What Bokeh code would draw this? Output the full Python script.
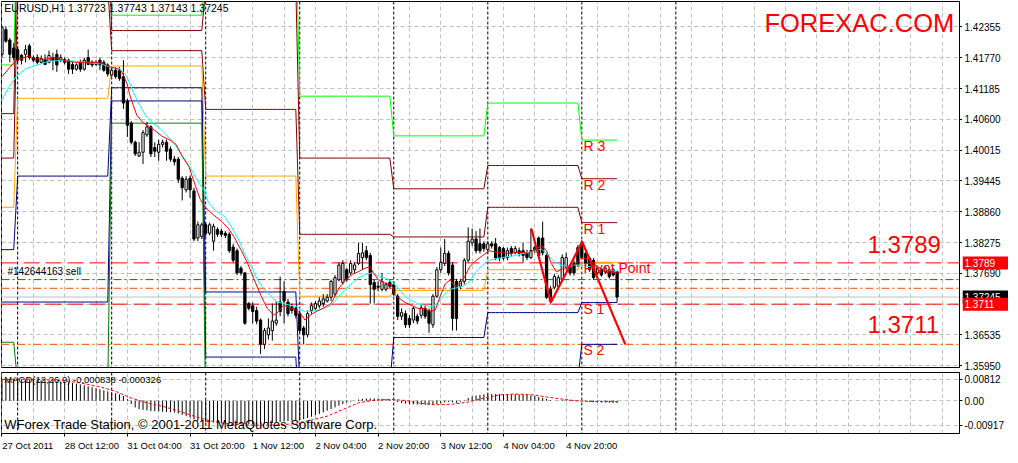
import numpy as np
from bokeh.plotting import figure
from bokeh.layouts import column, row
from bokeh.models import (Range1d, FixedTicker, Span, Label, CustomJSTickFormatter,
                          ColumnDataSource)
from bokeh.core.properties import value
from bokeh.embed import file_html
from bokeh.resources import INLINE

FONT = "Liberation Sans"

# ---------------- EURUSD H1 candles (bar 0 = 27 Oct 2011 20:00) ----------------
bar_open = [
    1.4183, 1.4230, 1.4210, 1.4195, 1.4192, 1.4181, 1.4183, 1.4199, 1.4177, 1.4177,
    1.4168, 1.4173, 1.4168, 1.4177, 1.4183, 1.4172, 1.4173, 1.4172, 1.4164, 1.4155,
    1.4168, 1.4155, 1.4177, 1.4168, 1.4164, 1.4172, 1.4168, 1.4163, 1.4144, 1.4153,
    1.4152, 1.4141, 1.4095, 1.4053, 1.4017, 1.3991, 1.3998, 1.4031, 1.4046, 1.4007,
    1.3998, 1.4013, 1.4017, 1.4004, 1.3985, 1.3985, 1.3949, 1.3927, 1.3949, 1.3925,
    1.3836, 1.3839, 1.3861, 1.3845, 1.3830, 1.3852, 1.3849, 1.3845, 1.3843, 1.3819,
    1.3812, 1.3779, 1.3770, 1.3712, 1.3708, 1.3699, 1.3681, 1.3635, 1.3653, 1.3661,
    1.3675, 1.3715, 1.3735, 1.3715, 1.3706, 1.3703, 1.3693, 1.3666, 1.3653, 1.3699,
    1.3703, 1.3708, 1.3712, 1.3717, 1.3724, 1.3730, 1.3757, 1.3752, 1.3776, 1.3770,
    1.3776, 1.3788, 1.3799, 1.3812, 1.3803, 1.3752, 1.3745, 1.3739, 1.3739, 1.3752,
    1.3748, 1.3726, 1.3688, 1.3693, 1.3684, 1.3681, 1.3688, 1.3690, 1.3703, 1.3699,
    1.3672, 1.3726, 1.3776, 1.3788, 1.3807, 1.3785, 1.3754, 1.3745, 1.3754, 1.3794,
    1.3827, 1.3834, 1.3825, 1.3825, 1.3814, 1.3825, 1.3825, 1.3818, 1.3816, 1.3799,
    1.3816, 1.3808, 1.3812, 1.3812, 1.3808, 1.3799, 1.3818, 1.3836, 1.3836, 1.3803,
    1.3739, 1.3743, 1.3745, 1.3757, 1.3781, 1.3781, 1.3788, 1.3818, 1.3827, 1.3807,
    1.3798, 1.3794, 1.3770, 1.3776, 1.3772, 1.3776, 1.3776, 1.37723]
bar_high = [
    1.4237, 1.4236, 1.4214, 1.4204, 1.4199, 1.4184, 1.4201, 1.4203, 1.4181, 1.4183,
    1.4181, 1.4183, 1.4190, 1.4186, 1.4192, 1.4183, 1.4177, 1.4175, 1.4170, 1.4166,
    1.4173, 1.4177, 1.4192, 1.4172, 1.4172, 1.4177, 1.4172, 1.4166, 1.4159, 1.4159,
    1.4159, 1.4172, 1.4099, 1.4057, 1.4020, 1.4017, 1.4040, 1.4055, 1.4049, 1.4017,
    1.4022, 1.4022, 1.4022, 1.4009, 1.3991, 1.3989, 1.3953, 1.3953, 1.3954, 1.3931,
    1.3867, 1.3865, 1.3865, 1.3865, 1.3863, 1.3856, 1.3854, 1.3849, 1.3847, 1.3825,
    1.3816, 1.3783, 1.3772, 1.3715, 1.3714, 1.3706, 1.3684, 1.3666, 1.3684, 1.3712,
    1.3717, 1.3763, 1.3754, 1.3721, 1.3712, 1.3706, 1.3699, 1.3670, 1.3699, 1.3714,
    1.3717, 1.3724, 1.3730, 1.3730, 1.3757, 1.3766, 1.3790, 1.3794, 1.3779, 1.3794,
    1.3790, 1.3827, 1.3827, 1.3821, 1.3808, 1.3757, 1.3754, 1.3770, 1.3752, 1.3757,
    1.3754, 1.3730, 1.3703, 1.3699, 1.3690, 1.3706, 1.3693, 1.3710, 1.3708, 1.3703,
    1.3730, 1.3781, 1.3818, 1.3834, 1.3812, 1.3790, 1.3759, 1.3759, 1.3798, 1.3856,
    1.3854, 1.3849, 1.3854, 1.3830, 1.3830, 1.3830, 1.3836, 1.3821, 1.3819, 1.3818,
    1.3821, 1.3821, 1.3818, 1.3827, 1.3814, 1.3854, 1.3821, 1.3839, 1.3867, 1.3808,
    1.3745, 1.3768, 1.3766, 1.3805, 1.3808, 1.3787, 1.3794, 1.3823, 1.3832, 1.3812,
    1.3801, 1.3798, 1.3783, 1.3779, 1.3783, 1.3779, 1.3779, 1.37743]
bar_low = [
    1.4177, 1.4205, 1.4168, 1.4172, 1.4166, 1.4164, 1.4168, 1.4173, 1.4168, 1.4164,
    1.4166, 1.4163, 1.4166, 1.4153, 1.4150, 1.4168, 1.4164, 1.4146, 1.4146, 1.4152,
    1.4150, 1.4152, 1.4163, 1.4159, 1.4161, 1.4153, 1.4150, 1.4141, 1.4141, 1.4137,
    1.4133, 1.4080, 1.4027, 1.4013, 1.3991, 1.3989, 1.3976, 1.4027, 1.3989, 1.3989,
    1.3982, 1.4007, 1.3982, 1.3980, 1.3973, 1.3940, 1.3907, 1.3922, 1.3912, 1.3830,
    1.3830, 1.3834, 1.3839, 1.3841, 1.3812, 1.3838, 1.3838, 1.3836, 1.3808, 1.3790,
    1.3766, 1.3765, 1.3672, 1.3699, 1.3675, 1.3673, 1.3617, 1.3626, 1.3644, 1.3642,
    1.3670, 1.3688, 1.3675, 1.3688, 1.3693, 1.3684, 1.3657, 1.3635, 1.3648, 1.3693,
    1.3699, 1.3703, 1.3706, 1.3714, 1.3717, 1.3726, 1.3754, 1.3748, 1.3754, 1.3766,
    1.3770, 1.3785, 1.3776, 1.3794, 1.3712, 1.3712, 1.3735, 1.3735, 1.3735, 1.3741,
    1.3726, 1.3681, 1.3681, 1.3666, 1.3666, 1.3675, 1.3673, 1.3684, 1.3683, 1.3657,
    1.3666, 1.3723, 1.3770, 1.3783, 1.3765, 1.3661, 1.3661, 1.3739, 1.3748, 1.3790,
    1.3821, 1.3807, 1.3807, 1.3810, 1.3808, 1.3816, 1.3794, 1.3792, 1.3794, 1.3794,
    1.3801, 1.3805, 1.3801, 1.3790, 1.3794, 1.3796, 1.3808, 1.3799, 1.3803, 1.3721,
    1.3712, 1.3739, 1.3741, 1.3754, 1.3777, 1.3765, 1.3765, 1.3781, 1.3796, 1.3783,
    1.3772, 1.3757, 1.3766, 1.3763, 1.3768, 1.3759, 1.3763, 1.37143]
bar_close = [
    1.4234, 1.4208, 1.4183, 1.4177, 1.4172, 1.4172, 1.4192, 1.4177, 1.4172, 1.4168,
    1.4175, 1.4164, 1.4181, 1.4172, 1.4163, 1.4177, 1.4168, 1.4155, 1.4155, 1.4163,
    1.4155, 1.4172, 1.4164, 1.4163, 1.4168, 1.4163, 1.4153, 1.4146, 1.4153, 1.4141,
    1.4137, 1.4091, 1.4049, 1.4017, 1.3995, 1.3998, 1.4035, 1.4046, 1.3995, 1.4000,
    1.4013, 1.4017, 1.4000, 1.3985, 1.3980, 1.3947, 1.3931, 1.3947, 1.3927, 1.3834,
    1.3861, 1.3861, 1.3845, 1.3861, 1.3858, 1.3843, 1.3843, 1.3841, 1.3812, 1.3794,
    1.3770, 1.3770, 1.3675, 1.3703, 1.3697, 1.3679, 1.3635, 1.3661, 1.3666, 1.3679,
    1.3681, 1.3697, 1.3717, 1.3693, 1.3699, 1.3690, 1.3661, 1.3653, 1.3693, 1.3708,
    1.3712, 1.3717, 1.3721, 1.3724, 1.3754, 1.3761, 1.3785, 1.3788, 1.3757, 1.3788,
    1.3785, 1.3807, 1.3808, 1.3799, 1.3748, 1.3739, 1.3743, 1.3754, 1.3748, 1.3745,
    1.3730, 1.3688, 1.3695, 1.3672, 1.3672, 1.3703, 1.3679, 1.3704, 1.3688, 1.3675,
    1.3726, 1.3776, 1.3790, 1.3807, 1.3770, 1.3684, 1.3684, 1.3754, 1.3794, 1.3830,
    1.3834, 1.3812, 1.3812, 1.3816, 1.3825, 1.3821, 1.3798, 1.3798, 1.3798, 1.3812,
    1.3807, 1.3816, 1.3807, 1.3803, 1.3799, 1.3812, 1.3812, 1.3803, 1.3808, 1.3724,
    1.3717, 1.3763, 1.3761, 1.3799, 1.3799, 1.3770, 1.3770, 1.3785, 1.3799, 1.3788,
    1.3776, 1.3761, 1.3779, 1.3766, 1.3779, 1.3763, 1.3766, 1.37245]

# ---------------- moving averages ----------------
red_ma_x = [0.0, 3.1, 4.4, 6.9, 8.6, 11.1, 13.6, 16.1, 18.6, 23.6, 26.1, 27.7, 29.4, 30.6, 31.9, 32.7,
            34.4, 36.1, 37.7, 39.4, 41.1, 42.7, 44.4, 46.1, 47.7, 49.4, 50.6, 51.9, 53.6, 56.1, 57.7,
            59.4, 61.1, 62.7, 64.4, 66.1, 67.7, 69.4, 70.6, 71.9, 73.6, 75.2, 76.5, 77.3, 78.6, 80.2,
            81.9, 84.0, 86.1, 87.7, 89.4, 91.1, 92.7, 94.0, 94.8, 96.1, 97.7, 99.4, 100.2, 101.1, 102.7,
            104.4, 106.1, 107.7, 109.4, 110.6, 111.9, 113.1, 114.4, 115.6, 116.9, 118.1, 119.4, 121.1,
            122.7, 124.4, 126.1, 127.7, 129.4, 131.1, 132.7, 134.4, 136.1, 137.7, 139.0, 140.2, 141.5,
            142.7, 144.4, 146.1, 147.7, 149.0, 150.2, 151.9, 153.6, 155.6, 157.0]
red_ma_y = [1.4141, 1.4168, 1.4174, 1.4180, 1.4174, 1.4174, 1.4177, 1.4171, 1.4168, 1.4168, 1.4165,
            1.4159, 1.4156, 1.4150, 1.4128, 1.4104, 1.4068, 1.4053, 1.4046, 1.4037, 1.4027, 1.4022,
            1.4013, 1.3989, 1.3971, 1.3934, 1.3909, 1.3894, 1.3882, 1.3867, 1.3855, 1.3836, 1.3812,
            1.3788, 1.3757, 1.3727, 1.3703, 1.3690, 1.3697, 1.3709, 1.3703, 1.3700, 1.3690, 1.3681,
            1.3690, 1.3697, 1.3703, 1.3712, 1.3742, 1.3757, 1.3767, 1.3773, 1.3779, 1.3782, 1.3770,
            1.3757, 1.3751, 1.3748, 1.3730, 1.3724, 1.3715, 1.3709, 1.3703, 1.3703, 1.3697, 1.3700,
            1.3727, 1.3749, 1.3757, 1.3745, 1.3748, 1.3763, 1.3782, 1.3794, 1.3803, 1.3812, 1.3809,
            1.3809, 1.3806, 1.3809, 1.3809, 1.3807, 1.3815, 1.3821, 1.3812, 1.3788, 1.3772, 1.3776,
            1.3782, 1.3785, 1.3797, 1.3797, 1.3794, 1.3782, 1.3776, 1.3773, 1.3770]
cyan_ma_x = [0.0, 1.9, 3.6, 6.1, 8.6, 11.1, 13.6, 16.1, 18.6, 21.1, 23.6, 25.2, 27.7, 30.2, 31.9, 33.6,
             35.2, 36.9, 38.5, 40.2, 41.9, 43.5, 45.2, 46.9, 48.5, 50.2, 51.5, 52.7, 54.4, 56.9, 58.5,
             60.2, 61.9, 63.6, 65.2, 66.9, 68.5, 70.2, 71.9, 73.5, 75.2, 76.9, 78.5, 81.1, 84.0, 86.1,
             87.7, 89.4, 91.1, 92.7, 94.4, 96.1, 97.7, 99.4, 101.1, 102.7, 104.4, 106.1, 107.7, 109.4,
             111.1, 112.7, 114.4, 116.1, 117.7, 119.4, 121.1, 122.7, 124.4, 126.1, 127.7, 129.4, 131.1,
             132.7, 134.4, 136.1, 137.7, 139.4, 141.0, 142.7, 144.4, 146.1, 147.7, 149.4, 151.1, 152.7,
             154.4, 157.0]
cyan_ma_y = [1.4098, 1.4122, 1.4141, 1.4156, 1.4162, 1.4168, 1.4171, 1.4171, 1.4170, 1.4168, 1.4166,
             1.4165, 1.4159, 1.4156, 1.4141, 1.4110, 1.4086, 1.4065, 1.4053, 1.4044, 1.4031, 1.4019,
             1.4001, 1.3982, 1.3964, 1.3940, 1.3928, 1.3903, 1.3888, 1.3876, 1.3858, 1.3836, 1.3806,
             1.3782, 1.3757, 1.3739, 1.3727, 1.3715, 1.3712, 1.3709, 1.3706, 1.3698, 1.3697, 1.3700,
             1.3709, 1.3727, 1.3739, 1.3751, 1.3761, 1.3767, 1.3770, 1.3763, 1.3761, 1.3754, 1.3742,
             1.3727, 1.3718, 1.3712, 1.3709, 1.3706, 1.3712, 1.3727, 1.3739, 1.3742, 1.3745, 1.3754,
             1.3773, 1.3785, 1.3794, 1.3797, 1.3799, 1.3801, 1.3803, 1.3806, 1.3809, 1.3812, 1.3815,
             1.3803, 1.3791, 1.3785, 1.3782, 1.3785, 1.3785, 1.3782, 1.3782, 1.3779, 1.3776, 1.3773]

# ---------------- daily pivot levels ----------------
day_first_bar = [0, 4, 28, 52, 76, 100, 124, 148]
day_last_bar = [3, 27, 51, 75, 99, 123, 147, 157]
pivot_r3 = [1.4163, 1.4500, 1.4257, 1.4420, 1.4104, 1.4029, 1.4091, 1.4021]
pivot_r2 = [1.4071, 1.4440, 1.4228, 1.4310, 1.3987, 1.3929, 1.3973, 1.3948]
pivot_r1 = [1.3987, 1.4310, 1.4190, 1.4079, 1.3843, 1.3838, 1.3894, 1.3865]
pivot_pp = [1.3894, 1.4100, 1.4161, 1.3953, 1.3726, 1.3737, 1.3776, 1.3790]
pivot_s1 = [1.3814, 1.3953, 1.4120, 1.3734, 1.3560, 1.3648, 1.3695, 1.3714]
pivot_s2 = [1.3715, 1.3715, 1.4095, 1.3611, 1.3470, 1.3550, 1.3570, 1.3635]
pivot_s3 = [1.3639, 1.3560, 1.4053, 1.3500, 1.3400, 1.3460, 1.3480, 1.3560]
pivot_names = ["R 3", "R 2", "R 1", "Pivot Point", "S 1", "S 2"]

# ---------------- objects on the chart ----------------
zigzag_x = [135.1, 140.1, 148.1, 159.1]
zigzag_y = [1.3854, 1.3714, 1.3829, 1.3635]
hline_prices = [1.3789, 1.3711, 1.37574, 1.37410, 1.36351]
bid_price = 1.37245
separator_bars = [4, 28, 52, 76, 100, 124, 148, 172]
grid_bars = list(range(0, 245, 8))
time_tick_bars = [0, 16, 32, 48, 64, 80, 96, 112, 128, 144]
time_tick_labels = ["27 Oct 2011", "28 Oct 12:00", "31 Oct 04:00", "31 Oct 20:00", "1 Nov 12:00",
                    "2 Nov 04:00", "2 Nov 20:00", "3 Nov 12:00", "4 Nov 04:00", "4 Nov 20:00"]
price_ticks = [1.42355, 1.41770, 1.41185, 1.40600, 1.40015, 1.39445, 1.38860, 1.38275,
               1.37690, 1.36535, 1.35950]
price_grid = price_ticks + [1.37105]
box_prices = [1.37245, 1.3711, 1.3789]
box_texts = ["1.37245", "1.3711", "1.3789"]

# ---------------- MACD(12,26,9) ----------------
macd_hist = [
    0.00790, 0.00805, 0.00812, 0.00810, 0.00806, 0.00800, 0.00796, 0.00790, 0.00783, 0.00776,
    0.00768, 0.00760, 0.00752, 0.00742, 0.00730, 0.00718, 0.00702, 0.00685, 0.00665, 0.00642,
    0.00615, 0.00580, 0.00540, 0.00505, 0.00470, 0.00430, 0.00390, 0.00350, 0.00310, 0.00280,
    0.00240, 0.00180, 0.00060, -0.00120, -0.00250, -0.00320, -0.00345, -0.00360, -0.00385, -0.00395,
    -0.00400, -0.00410, -0.00420, -0.00432, -0.00445, -0.00480, -0.00530, -0.00580, -0.00630, -0.00700,
    -0.00750, -0.00775, -0.00790, -0.00805, -0.00818, -0.00828, -0.00836, -0.00845, -0.00853, -0.00860,
    -0.00866, -0.00872, -0.00877, -0.00880, -0.00879, -0.00873, -0.00868, -0.00860, -0.00850, -0.00835,
    -0.00815, -0.00795, -0.00780, -0.00765, -0.00750, -0.00735, -0.00720, -0.00695, -0.00650, -0.00600,
    -0.00545, -0.00495, -0.00435, -0.00375, -0.00310, -0.00250, -0.00185, -0.00125, -0.00075, -0.00035,
    0.00000, 0.00045, 0.00070, 0.00085, 0.00088, 0.00085, 0.00075, 0.00070, 0.00060, 0.00050,
    0.00010, -0.00050, -0.00085, -0.00110, -0.00125, -0.00135, -0.00140, -0.00148, -0.00150, -0.00158,
    -0.00150, -0.00125, -0.00100, -0.00065, -0.00050, -0.00060, -0.00075, -0.00035, 0.00015, 0.00100,
    0.00160, 0.00195, 0.00220, 0.00235, 0.00245, 0.00248, 0.00248, 0.00246, 0.00245, 0.00245,
    0.00244, 0.00243, 0.00240, 0.00232, 0.00220, 0.00200, 0.00175, 0.00140, 0.00110, 0.00070,
    0.00025, 0.00000, 0.00010, 0.00025, 0.00035, 0.00035, 0.00030, 0.00020, 0.00000, -0.00025,
    -0.00040, -0.00055, -0.00062, -0.00065, -0.00068, -0.00072, -0.00078, -0.00084]
signal_x = [0, 5, 10, 16, 20, 25, 29, 33, 37, 41, 45, 49, 53, 58, 62, 66, 70, 74, 78, 83,
            87, 91, 95, 99, 103, 107, 111, 115, 119, 123, 127, 131, 135, 139, 143, 147, 151, 157]
signal_y = [0.0080, 0.0081, 0.0080, 0.0075, 0.0067, 0.0052, 0.0035, 0.0010, -0.0008, -0.0021,
            -0.0038, -0.0058, -0.0075, -0.0088, -0.0091, -0.00917, -0.0091, -0.0087, -0.0076, -0.0058,
            -0.0033, -0.0008, 0.0002, 0.0005, 0.0001, -0.0010, -0.0015, -0.0013, -0.0005, 0.0010,
            0.0022, 0.0025, 0.0023, 0.0014, 0.0006, -0.0001, -0.0003, -0.00033]
macd_ticks = [0.00812, 0.0, -0.00917]

# ======================================================================
n = len(bar_open)
idx = list(range(n))
o = np.array(bar_open)
c = np.array(bar_close)
src = ColumnDataSource(dict(
    x=idx, top=np.maximum(o, c), bottom=np.minimum(o, c), high=bar_high, low=bar_low,
    fill=["white" if cc >= oo else "black" for oo, cc in zip(bar_open, bar_close)]))

XR = Range1d(-0.125, 244.4)
FW = 958
MAIN_H = 366
Y0, Y1 = 1.35913, 1.42829

p = figure(frame_width=FW, frame_height=MAIN_H, x_range=XR, y_range=Range1d(Y0, Y1),
           output_backend="svg", toolbar_location=None, tools="",
           x_axis_location=None, y_axis_location="right",
           min_border_left=1, min_border_right=0, min_border_top=1, min_border_bottom=2,
           background_fill_color="white", border_fill_color="white")
p.outline_line_color = "black"
p.outline_line_alpha = 1.0
p.xgrid.ticker = FixedTicker(ticks=grid_bars)
p.ygrid.ticker = FixedTicker(ticks=price_grid)
p.grid.grid_line_color = "#c0c0c0"
p.grid.grid_line_dash = "4 3"
p.grid.grid_line_width = 1

ya = p.yaxis[0]
ya.ticker = FixedTicker(ticks=price_ticks)
ya.formatter = CustomJSTickFormatter(code="return '';")
ya.major_tick_out = 3
ya.major_tick_in = 0
ya.minor_tick_out = 0
ya.minor_tick_in = 0
ya.major_label_standoff = 0
ya.axis_line_color = "black"
ya.major_tick_line_color = "black"

for b in separator_bars:
    p.add_layout(Span(location=b, dimension="height", line_color="black",
                      line_dash="3 2", line_width=1, level="underlay"))

pivot_sets = [(pivot_r3, "#00ff00"), (pivot_r2, "#800000"), (pivot_r1, "#800000"),
              (pivot_pp, "#ffa500"), (pivot_s1, "#000080"), (pivot_s2, "#000080"),
              (pivot_s3, "#008000")]
for vals, col in pivot_sets:
    xs, ys = [], []
    for s, e, v in zip(day_first_bar, day_last_bar, vals):
        for i in range(s, e + 1):
            xs.append(i)
            ys.append(v)
    p.line(xs, ys, line_color=col, line_width=1)

hstyles = [("#ff0000", "16 6"), ("#ff0000", "16 6"), ("#008000", "8 3 2 3"),
           ("#ff4500", "8 3 2 3"), ("#ff4500", "8 3 2 3")]
p.add_layout(Span(location=bid_price, dimension="width", line_color="#c0c0c0",
                  line_width=1, level="underlay"))
for price, (col, dash) in zip(hline_prices, hstyles):
    p.add_layout(Span(location=price, dimension="width", line_color=col,
                      line_dash=dash, line_width=1, level="underlay"))

p.segment(x0="x", y0="low", x1="x", y1="high", source=src, line_color="black", line_width=1)
p.vbar(x="x", width=0.58, top="top", bottom="bottom", fill_color="fill",
       line_color="black", line_width=1, source=src)

p.line(cyan_ma_x, cyan_ma_y, line_color="#00ffff", line_width=1)
p.line(red_ma_x, red_ma_y, line_color="#ff0000", line_width=1)
p.line(zigzag_x, zigzag_y, line_color="#ff0000", line_width=2.2)


def lab(fig, x, y, text, size, color="black", **kw):
    fig.add_layout(Label(x=x, y=y, text=text, text_font=FONT, text_font_size=size,
                         text_color=color, **kw))


lab(p, 0.6, 1.4259, "EURUSD,H1  1.37723 1.37743 1.37143 1.37245", "10.5px")
lab(p, 1.4, 1.3762, "#142644163 sell", "10px")
lab(p, 194.6, 1.4215, "FOREXAC.COM", "25.5px", "#ff0000")
lab(p, 220.9, 1.3807, "1.3789", "24px", "#ff0000")
lab(p, 220.9, 1.3657, "1.3711", "24px", "#ff0000")
last_levels = [pivot_r3[-1], pivot_r2[-1], pivot_r1[-1], pivot_pp[-1], pivot_s1[-1], pivot_s2[-1]]
for name, lvl in zip(pivot_names, last_levels):
    lab(p, 148.4, lvl, name, "14px", "#ff0000", y_offset=-14)

# ---------------- price scale strip (tick texts + price boxes) ----------------
px_per_price = MAIN_H / (Y1 - Y0)
EXTRA = 5
pr = figure(frame_width=46, frame_height=MAIN_H + EXTRA, x_range=Range1d(0, 1),
            y_range=Range1d(Y0 - EXTRA / px_per_price, Y1),
            output_backend="svg", toolbar_location=None, tools="",
            x_axis_location=None, y_axis_location=None,
            min_border_left=0, min_border_right=0, min_border_top=1, min_border_bottom=0,
            background_fill_color="white", border_fill_color="white")
pr.outline_line_color = None
pr.grid.visible = False
pr.text(x=[0.0] * len(price_ticks), y=price_ticks, text=["%.5f" % t for t in price_ticks],
        x_offset=2, text_font=value(FONT), text_font_size="10px", text_color="black",
        text_baseline="middle", text_align="left")
box_cols = ["black", "#ff0000", "#ff0000"]
for bp, bt, bc in zip(box_prices, box_texts, box_cols):
    pr.rect(x=[0.5], y=[bp], width=1.0, height=13, height_units="screen",
            fill_color=bc, line_color=None)
    pr.text(x=[0.0], y=[bp], text=[bt], x_offset=2, text_font=value(FONT),
            text_font_size="10px", text_color="white", text_baseline="middle", text_align="left")

# ---------------- MACD panel ----------------
q = figure(frame_width=FW, frame_height=61, x_range=XR, y_range=Range1d(-0.01229, 0.01059),
           output_backend="svg", toolbar_location=None, tools="",
           x_axis_location="below", y_axis_location="right",
           min_border_left=1, min_border_right=0, min_border_top=0, min_border_bottom=0,
           background_fill_color="white", border_fill_color="white")
q.outline_line_color = "black"
q.outline_line_alpha = 1.0
q.xgrid.ticker = FixedTicker(ticks=grid_bars)
q.ygrid.ticker = FixedTicker(ticks=macd_ticks)
q.grid.grid_line_color = "#c0c0c0"
q.grid.grid_line_dash = "4 3"

qa = q.yaxis[0]
qa.ticker = FixedTicker(ticks=macd_ticks)
qa.formatter = CustomJSTickFormatter(code="return tick == 0 ? '0.00' : tick.toFixed(5);")
qa.major_tick_out = 3
qa.major_tick_in = 0
qa.minor_tick_out = 0
qa.minor_tick_in = 0
qa.major_label_standoff = 2
qa.axis_line_color = "black"
qa.major_label_text_font = FONT
qa.major_label_text_font_size = "10px"
qa.major_label_text_color = "black"

# time axis: labels start at their tick (MetaTrader style)
CW = {"O": 0.778, "c": 0.5, "t": 0.278, "N": 0.722, "o": 0.556, "v": 0.5, " ": 0.278, ":": 0.278}
px_per_bar = FW / (XR.end - XR.start)
label_centers = [b + sum(CW.get(ch, 0.556) for ch in t) * 9.5 / 2 / px_per_bar
                 for b, t in zip(time_tick_bars, time_tick_labels)]
xa = q.xaxis[0]
xa.ticker = FixedTicker(ticks=label_centers, minor_ticks=time_tick_bars)
xa.formatter = CustomJSTickFormatter(
    args=dict(pos=label_centers, labels=time_tick_labels),
    code="for (let i = 0; i < pos.length; i++) { if (Math.abs(pos[i] - tick) < 1e-6) return labels[i]; } return '';")
xa.major_tick_out = 0
xa.major_tick_in = 0
xa.minor_tick_out = 3
xa.minor_tick_in = 0
xa.minor_tick_line_color = "black"
xa.major_label_standoff = 3
xa.axis_line_color = "black"
xa.major_label_text_font = FONT
xa.major_label_text_font_size = "9.5px"
xa.major_label_text_color = "black"

for b in separator_bars:
    q.add_layout(Span(location=b, dimension="height", line_color="black",
                      line_dash="3 2", line_width=1, level="underlay"))

q.segment(x0=idx, y0=[0.0] * n, x1=idx, y1=macd_hist, line_color="black", line_width=1)
q.line(signal_x, signal_y, line_color="#ff0000", line_width=1, line_dash="3 2")

lab(q, 0.6, 0.0058, "MACD(12,26,9) -0.000838 -0.000326", "9.5px")
lab(q, 0.6, -0.01160, "WForex Trade Station, \u00a9 2001-2011 MetaQuotes Software Corp.", "13px")

layout = column(row(p, pr, spacing=0), q, spacing=0)
open("out.html", "w").write(file_html(layout, INLINE))
